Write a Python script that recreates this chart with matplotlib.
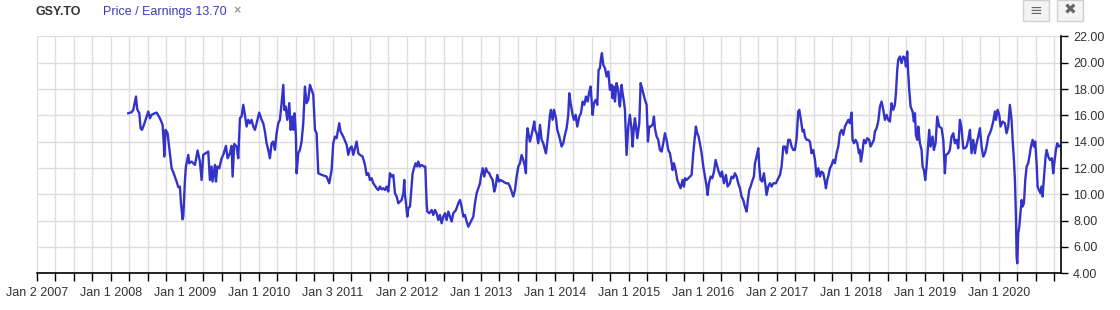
import pandas as pd
import matplotlib
matplotlib.use("Agg")
import matplotlib.pyplot as plt
import matplotlib.dates as mdates
from matplotlib.patches import Rectangle

plt.rcParams['font.family'] = ['Liberation Sans', 'DejaVu Sans']

ticker = "GSY.TO"
series_name = "Price / Earnings"
last_value = 13.70

# decimal year -> P/E
pe_year = [
    2008.234, 2008.279, 2008.302, 2008.324, 2008.338, 2008.355, 2008.383, 2008.401, 2008.419, 2008.446,
    2008.482, 2008.504, 2008.527, 2008.549, 2008.594, 2008.617, 2008.662, 2008.698, 2008.716, 2008.720,
    2008.738, 2008.765, 2008.797, 2008.820, 2008.851, 2008.887, 2008.910, 2008.932, 2008.946, 2008.968,
    2008.977, 2009.000, 2009.013, 2009.045, 2009.058, 2009.090, 2009.135, 2009.171, 2009.202, 2009.225,
    2009.247, 2009.292, 2009.315, 2009.337, 2009.360, 2009.373, 2009.405, 2009.419, 2009.437, 2009.464,
    2009.495, 2009.518, 2009.554, 2009.576, 2009.608, 2009.630, 2009.644, 2009.666, 2009.698, 2009.720,
    2009.743, 2009.765, 2009.788, 2009.810, 2009.833, 2009.855, 2009.878, 2009.901, 2009.923, 2009.946,
    2009.968, 2010.004, 2010.036, 2010.058, 2010.081, 2010.103, 2010.126, 2010.148, 2010.171, 2010.193,
    2010.216, 2010.238, 2010.261, 2010.283, 2010.306, 2010.329, 2010.342, 2010.360, 2010.383, 2010.410,
    2010.428, 2010.450, 2010.464, 2010.482, 2010.500, 2010.509, 2010.531, 2010.554, 2010.576, 2010.599,
    2010.621, 2010.644, 2010.666, 2010.689, 2010.711, 2010.734, 2010.757, 2010.779, 2010.802, 2010.847,
    2010.914, 2010.950, 2010.982, 2011.004, 2011.027, 2011.049, 2011.085, 2011.103, 2011.139, 2011.185,
    2011.207, 2011.230,
    2011.253, 2011.275, 2011.298, 2011.320, 2011.343, 2011.365, 2011.401, 2011.433, 2011.455, 2011.478,
    2011.500, 2011.523, 2011.545, 2011.590, 2011.613, 2011.635, 2011.658, 2011.680, 2011.703, 2011.725,
    2011.748, 2011.771, 2011.793, 2011.816, 2011.838, 2011.861, 2011.883, 2011.906, 2011.928, 2011.951,
    2011.964, 2011.973, 2011.987, 2012.005, 2012.018, 2012.041, 2012.063, 2012.077, 2012.095, 2012.117,
    2012.140, 2012.153, 2012.176, 2012.198, 2012.230, 2012.248, 2012.266, 2012.275, 2012.302, 2012.334,
    2012.356, 2012.379, 2012.401, 2012.424, 2012.446, 2012.469, 2012.491, 2012.514, 2012.536, 2012.559,
    2012.581, 2012.604, 2012.626, 2012.662, 2012.694, 2012.716, 2012.739, 2012.761, 2012.784, 2012.807,
    2012.829, 2012.852, 2012.874, 2012.897, 2012.919, 2012.942, 2012.964, 2012.987, 2013.000, 2013.023,
    2013.045, 2013.068, 2013.086, 2013.113, 2013.131, 2013.158, 2013.180, 2013.198, 2013.221, 2013.244,
    2013.266, 2013.302, 2013.338, 2013.370, 2013.392, 2013.415, 2013.437, 2013.460, 2013.482, 2013.505,
    2013.527, 2013.550, 2013.572, 2013.595, 2013.608, 2013.617, 2013.631, 2013.649, 2013.662, 2013.685,
    2013.707, 2013.721, 2013.730, 2013.752, 2013.775, 2013.798, 2013.820, 2013.843, 2013.865, 2013.879,
    2013.910, 2013.933, 2013.946, 2013.969, 2013.987, 2014.014, 2014.032, 2014.059, 2014.090, 2014.113,
    2014.135, 2014.158, 2014.180, 2014.194, 2014.212, 2014.239, 2014.257, 2014.280, 2014.302, 2014.329,
    2014.352, 2014.374, 2014.397, 2014.419, 2014.442, 2014.460, 2014.482, 2014.496, 2014.509, 2014.527,
    2014.550, 2014.572, 2014.590, 2014.608, 2014.622, 2014.635, 2014.653, 2014.676, 2014.698, 2014.721,
    2014.743,
    2014.766, 2014.779, 2014.797, 2014.811, 2014.833, 2014.856, 2014.869, 2014.878, 2014.901, 2014.914,
    2014.932, 2014.946, 2014.959, 2014.968, 2014.991, 2015.013, 2015.036, 2015.049, 2015.067, 2015.081,
    2015.095, 2015.113, 2015.140, 2015.158, 2015.171, 2015.194, 2015.216, 2015.239, 2015.257, 2015.275,
    2015.293, 2015.320, 2015.338, 2015.351, 2015.374, 2015.396, 2015.419, 2015.441, 2015.464, 2015.486,
    2015.509, 2015.531, 2015.554, 2015.577, 2015.590, 2015.608, 2015.635, 2015.653, 2015.680, 2015.698,
    2015.725, 2015.743, 2015.757, 2015.779, 2015.802, 2015.824, 2015.847, 2015.869, 2015.892, 2015.905,
    2015.923, 2015.941, 2015.959, 2015.982, 2016.005, 2016.027, 2016.050, 2016.063, 2016.081, 2016.104,
    2016.126, 2016.149, 2016.171, 2016.194, 2016.212, 2016.239, 2016.257, 2016.284, 2016.311, 2016.333,
    2016.365, 2016.387, 2016.410, 2016.432, 2016.455, 2016.477, 2016.500, 2016.522, 2016.545, 2016.567,
    2016.590, 2016.608, 2016.626, 2016.644, 2016.671, 2016.689, 2016.703, 2016.725, 2016.748, 2016.761,
    2016.779, 2016.802, 2016.824, 2016.842, 2016.860, 2016.883, 2016.905, 2016.928, 2016.950, 2016.986,
    2017.018, 2017.041, 2017.063, 2017.086, 2017.108, 2017.131, 2017.153, 2017.176, 2017.198, 2017.221,
    2017.243, 2017.266, 2017.288, 2017.302, 2017.324, 2017.347, 2017.365, 2017.378, 2017.401, 2017.423,
    2017.446, 2017.468, 2017.491, 2017.514, 2017.536, 2017.559, 2017.581, 2017.604, 2017.626, 2017.649,
    2017.662, 2017.680, 2017.698, 2017.716, 2017.739, 2017.761, 2017.784, 2017.806, 2017.829, 2017.851,
    2017.874, 2017.896, 2017.919, 2017.941, 2017.964, 2017.986, 2018.009, 2018.022, 2018.041, 2018.063,
    2018.086, 2018.108,
    2018.121, 2018.135, 2018.153, 2018.175, 2018.198, 2018.220, 2018.247, 2018.265, 2018.288, 2018.310,
    2018.324, 2018.347, 2018.369, 2018.392, 2018.414, 2018.437, 2018.459, 2018.482, 2018.504, 2018.527,
    2018.549, 2018.572, 2018.594, 2018.608, 2018.626, 2018.639, 2018.662, 2018.684, 2018.707, 2018.729,
    2018.743, 2018.761, 2018.774, 2018.788, 2018.806, 2018.833, 2018.851, 2018.865, 2018.878, 2018.896,
    2018.910, 2018.932, 2018.955, 2018.968, 2018.986, 2019.004, 2019.022, 2019.045, 2019.058, 2019.076,
    2019.103, 2019.121, 2019.144, 2019.166, 2019.193, 2019.225, 2019.248, 2019.270, 2019.283, 2019.315,
    2019.337, 2019.360, 2019.383, 2019.405, 2019.428, 2019.450, 2019.473, 2019.495, 2019.518, 2019.540,
    2019.563, 2019.585, 2019.608, 2019.630, 2019.653, 2019.675, 2019.698, 2019.720, 2019.743, 2019.766,
    2019.788, 2019.811, 2019.833, 2019.856, 2019.878, 2019.901, 2019.923, 2019.946, 2019.959, 2019.982,
    2020.004, 2020.022, 2020.049, 2020.081, 2020.103, 2020.126, 2020.148, 2020.171, 2020.185, 2020.203,
    2020.216, 2020.230, 2020.239, 2020.248, 2020.261, 2020.275, 2020.293, 2020.306, 2020.320, 2020.338,
    2020.356, 2020.374, 2020.396, 2020.419, 2020.432, 2020.455, 2020.473, 2020.491, 2020.509, 2020.523,
    2020.540, 2020.563, 2020.577, 2020.590, 2020.608, 2020.631, 2020.644, 2020.667, 2020.689, 2020.716,
    2020.734, 2020.748, 2020.770, 2020.788, 2020.806, 2020.830,
]
pe_value = [
    16.16, 16.24, 16.42, 17.05, 17.43, 16.47, 16.16, 15.02, 14.90, 15.28,
    15.91, 16.29, 15.78, 16.04, 16.16, 16.21, 15.78, 15.28, 13.63, 12.87,
    14.90, 14.64, 13.12, 11.98, 11.55, 10.97, 10.54, 10.59, 9.32, 8.10,
    8.31, 11.09, 12.11, 13.00, 12.36, 12.49, 12.24, 13.33, 12.49, 11.09,
    13.00, 13.17, 13.25, 11.09, 12.11, 10.97, 12.24, 10.97, 12.11, 11.98,
    12.74, 13.00, 13.68, 12.74, 13.12, 13.68, 11.35, 13.83, 13.63, 12.74,
    15.78, 15.91, 16.80, 16.04, 15.15, 15.66, 15.40, 15.66, 15.15, 14.90,
    15.40, 16.21, 15.66, 15.40, 14.77, 13.88, 13.38, 12.74, 13.88, 14.01,
    13.38, 14.64, 15.40, 15.66, 16.93, 18.32, 16.42, 16.67, 15.66, 16.93,
    14.90, 15.91, 14.90, 16.16, 14.39, 11.60, 13.12, 13.38, 14.01, 15.40,
    18.19, 16.93, 17.18, 18.32, 17.94, 17.56, 14.90, 14.64, 11.60, 11.48,
    11.35, 10.84, 11.86, 13.88, 14.39, 14.26, 15.40, 14.77, 14.39, 13.76,
    13.00, 13.50,
    13.63, 13.00, 13.50, 14.01, 13.12, 13.00, 12.87, 12.23, 11.47, 11.60,
    11.09, 11.22, 10.84, 10.46, 10.33, 10.59, 10.38, 10.46, 10.33, 10.59,
    10.21, 11.60, 11.35, 11.47, 10.08, 9.83, 9.32, 9.45, 9.57, 10.08,
    11.09, 9.95, 9.32, 8.31, 8.94, 9.07, 10.59, 11.60, 11.98, 12.36,
    12.11, 12.49, 12.11, 12.23, 12.11, 12.11, 9.32, 8.69, 8.56, 8.81,
    8.43, 8.81, 8.56, 8.05, 8.43, 7.80, 8.31, 8.56, 8.05, 8.69,
    8.31, 7.93, 8.56, 8.81, 9.32, 9.57, 9.07, 8.31, 8.43, 7.93,
    7.54, 7.80, 8.05, 8.31, 9.32, 10.08, 10.46, 10.84, 11.35, 11.98,
    11.35, 11.98, 11.73, 11.60, 11.35, 11.09, 10.21, 10.59, 11.47, 10.97,
    11.09, 10.97, 10.84, 10.84, 10.59, 10.21, 9.83, 10.33, 11.35, 12.11,
    12.36, 12.99, 12.61, 12.11, 11.60, 14.14, 15.02, 14.39, 14.01, 14.52,
    15.15, 15.53, 14.90, 14.64, 13.88, 15.28, 14.14, 13.88, 13.37, 13.12,
    14.64, 16.04, 16.42, 15.66, 16.42, 15.78, 14.90, 14.39, 13.63, 13.88,
    14.52, 15.02, 16.04, 17.68, 16.92, 16.04, 15.66, 16.04, 15.15, 15.91,
    16.16, 17.05, 16.80, 17.43, 17.05, 17.68, 18.19, 17.05, 16.04, 16.92,
    17.18, 16.80, 19.46, 19.59, 20.35, 20.73, 19.84, 19.59, 18.95, 19.33,
    17.94,
    18.32, 17.30, 18.19, 17.05, 18.45, 17.94, 16.92, 16.67, 18.32, 17.68,
    17.05, 16.42, 14.39, 12.99, 15.15, 16.04, 14.90, 13.63, 15.15, 15.78,
    15.15, 14.26, 15.40, 18.45, 18.19, 17.68, 17.18, 16.80, 14.01, 15.15,
    15.15, 15.28, 15.91, 15.02, 14.39, 14.14, 13.37, 13.25, 13.88, 14.64,
    14.14, 13.37, 13.12, 12.36, 11.85, 12.36, 11.73, 11.09, 10.71, 10.46,
    11.09, 10.59, 11.22, 11.09, 11.22, 11.35, 11.47, 13.12, 14.39, 15.15,
    14.64, 14.39, 13.88, 13.12, 12.11, 11.35, 10.59, 9.95, 10.84, 11.35,
    11.22, 11.73, 12.61, 12.11, 11.73, 11.35, 11.73, 10.84, 11.47, 10.59,
    10.84, 11.35, 11.22, 11.60, 11.35, 10.84, 10.46, 9.83, 9.57, 9.07,
    8.69, 9.57, 10.33, 10.59, 11.09, 11.35, 12.36, 12.87, 13.50, 12.11,
    11.09, 10.97, 11.60, 10.84, 9.95, 10.59, 10.84, 10.59, 10.84, 10.84,
    11.22, 11.47, 12.11, 13.63, 13.63, 13.12, 14.14, 14.14, 13.63, 13.37,
    13.37, 14.26, 16.29, 16.42, 15.66, 14.77, 14.90, 14.39, 14.14, 14.14,
    14.01, 13.12, 13.37, 12.61, 11.35, 11.98, 11.35, 11.73, 11.60, 10.97,
    10.46, 11.09, 11.47, 11.98, 12.23, 12.61, 12.36, 13.12, 13.63, 14.64,
    14.90, 14.52, 15.15, 15.40, 15.66, 15.40, 16.21, 14.14, 13.88, 14.14,
    13.88, 13.12,
    13.37, 12.49, 13.12, 14.14, 13.88, 14.26, 14.14, 13.63, 13.88, 14.14,
    14.77, 15.02, 15.53, 16.67, 17.05, 16.42, 15.66, 16.04, 15.66, 15.53,
    16.92, 16.42, 16.80, 17.68, 19.46, 20.22, 20.47, 19.97, 20.47, 20.35,
    19.71, 20.85, 19.21, 17.94, 16.67, 16.29, 15.53, 16.16, 14.52, 14.14,
    15.15, 13.88, 13.37, 12.11, 11.85, 11.09, 12.11, 13.88, 14.90, 13.63,
    14.39, 13.37, 13.88, 15.91, 15.15, 15.02, 14.14, 11.60, 12.99, 13.12,
    13.37, 14.39, 14.64, 13.88, 14.14, 13.50, 15.66, 15.02, 13.50, 13.50,
    13.63, 14.14, 14.90, 13.12, 14.14, 13.12, 13.88, 14.39, 15.02, 13.63,
    12.87, 13.12, 13.63, 14.39, 14.64, 15.02, 15.53, 16.29, 15.66, 16.42,
    16.04, 15.15, 15.53, 15.40, 14.64, 15.15, 16.80, 15.66, 14.14, 12.61,
    11.09, 8.31, 5.26, 4.76, 7.04, 7.54, 8.69, 9.57, 9.07, 9.32,
    11.09, 12.11, 12.36, 13.12, 13.63, 14.14, 13.63, 14.01, 12.36, 10.59,
    10.33, 10.08, 10.59, 9.83, 11.22, 12.87, 13.37, 12.87, 12.61, 12.74,
    11.60, 12.36, 13.37, 13.88, 13.63, 13.70,
]

tick_years = list(range(2007, 2021))
tick_labels = ["Jan 2 2007", "Jan 1 2008", "Jan 1 2009", "Jan 1 2010", "Jan 3 2011",
               "Jan 2 2012", "Jan 1 2013", "Jan 1 2014", "Jan 1 2015", "Jan 1 2016",
               "Jan 2 2017", "Jan 1 2018", "Jan 1 2019", "Jan 1 2020"]


def year_to_date(y):
    return pd.Timestamp("2007-01-01") + pd.to_timedelta((y - 2007) * 365.25, unit="D")


dates = [year_to_date(y) for y in pe_year]

line_color = "#3333c9"
text_color = "#333333"

fig = plt.figure(figsize=(11.2, 3.1), dpi=100)
ax = fig.add_axes([0.033, 0.1184, 0.914, 0.7642])

ax.plot(dates, pe_value, color=line_color, lw=1.7, solid_joinstyle="round")

ax.set_xlim(pd.Timestamp("2007-01-01"), year_to_date(2020.834))
ax.set_ylim(4, 22)

# x axis: labelled ticks yearly, small ticks every quarter
ax.set_xticks([pd.Timestamp(f"{y}-01-01") for y in tick_years])
ax.set_xticklabels(tick_labels)
ax.xaxis.set_minor_locator(mdates.MonthLocator(bymonth=[4, 7, 10]))
ax.tick_params(axis="x", which="both", direction="out", length=6, width=1,
               color="black", labelsize=9, labelcolor=text_color, pad=4)

ax.yaxis.tick_right()
ax.set_yticks(range(4, 23, 2))
ax.set_yticklabels([f"{v:.2f}" for v in range(4, 23, 2)])
ax.tick_params(axis="y", direction="out", length=5, width=1, color="black",
               labelsize=9, labelcolor=text_color, pad=4)

ax.grid(True, which="both", axis="x", color="#dddddd", lw=1)
ax.grid(True, which="major", axis="y", color="#dddddd", lw=1)
ax.set_axisbelow(True)

for side in ["left", "top"]:
    ax.spines[side].set_visible(False)
for side in ["right", "bottom"]:
    ax.spines[side].set_color("black")
    ax.spines[side].set_linewidth(1.2)

# header texts
fig.text(35 / 1120, 1 - 12 / 310, ticker, fontsize=9, weight="bold",
         color=text_color, va="center", ha="left")
fig.text(103 / 1120, 1 - 12 / 310, f"{series_name} {last_value:.2f}", fontsize=9,
         color="#3a3ac0", va="center", ha="left")
fig.text(233 / 1120, 1 - 11 / 310, "\u00d7", fontsize=9, weight="bold",
         color="#999999", va="center", ha="left")

# toolbar buttons top-right
for x0, glyph in [(1023, "\u2261"), (1057, "\u2716")]:
    fig.patches.append(Rectangle((x0 / 1120, 1 - 21 / 310), 26 / 1120, 21 / 310,
                                 transform=fig.transFigure, facecolor="#f4f4f4",
                                 edgecolor="#d0d0d0", lw=1))
    fig.text((x0 + 13) / 1120, 1 - 10 / 310, glyph, fontsize=11, color="#666666",
             ha="center", va="center", family=["DejaVu Sans"])

fig.savefig("out.png", dpi=100)
